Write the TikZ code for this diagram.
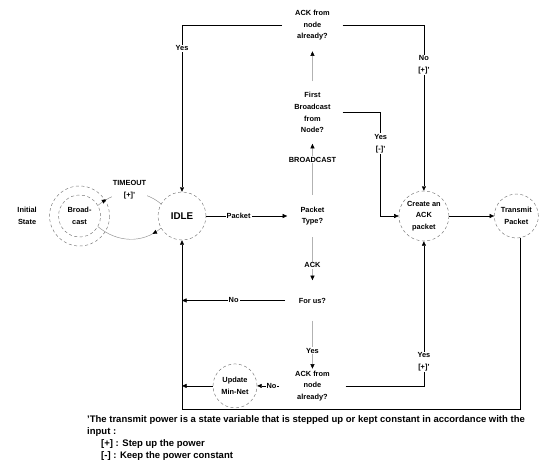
\documentclass[tikz,border=0pt]{standalone}
\usepackage{fontspec}
\setmainfont{Liberation Sans}
\usetikzlibrary{positioning,arrows.meta,calc,decorations.markings}
\tikzset{arrowat/.style={postaction={decorate},decoration={markings,mark=at position #1 with {\arrow[black]{>}}}}}

\begin{document}
\begin{tikzpicture}[x=1pt,y=-1pt,>={Triangle[length=4.5pt,width=4pt]},font=\bfseries\fontsize{7.4}{11.8}\selectfont,line width=0.45pt]
\tikzstyle{ring}=[draw=black!55,dash pattern=on 3pt off 2.5pt]
\tikzstyle{state}=[ring,circle,align=center,inner sep=0pt]
\tikzstyle{question}=[align=center,inner sep=0pt,minimum width=54pt,minimum height=52pt]
\tikzstyle{lbl}=[fill=white,inner sep=1pt,align=center]
\tikzstyle{faint}=[draw=black!30,-{Triangle[length=4.5pt,width=4pt,black]}]
\useasboundingbox (0,0) rectangle (540,461);

\node[state,minimum size=48pt,font=\bfseries\fontsize{9.8}{11}\selectfont] (idle) at (182,216) {IDLE};
\node[state,minimum size=42pt,left=57pt of idle] (bcast) {Broad-\\cast};
\draw[ring] (bcast) circle[radius=30];
\node[align=center,left=18pt of bcast] (init) {Initial\\State};

\node[question,minimum width=50pt,minimum height=42pt,right=81pt of idle] (ptype) {Packet\\Type?};
\node[question,minimum width=60pt,minimum height=62pt,above=51pt of ptype] (first) {First\\Broadcast\\from\\Node?};
\node[question,minimum width=60pt,above=30pt of first] (acktop) {ACK from\\node\\already?};
\node[question,minimum height=40pt,below=43pt of ptype] (forus) {For us?};
\node[question,minimum width=66pt,minimum height=34pt,below=48pt of forus] (ackbot) {ACK from\\node\\already?};

\node[state,minimum size=50pt,right=61pt of ptype] (create) {Create an\\ACK\\packet};
\node[state,minimum size=44pt,right=45pt of create] (transmit) {Transmit\\Packet};
\node[state,minimum size=44pt,left=22pt of ackbot] (update) {Update\\Min-Net};

\coordinate (nohit) at (idle.south |- forus.west);
\coordinate (updhit) at (idle.south |- update.west);

\draw[draw=black!45,arrowat=0.15] (bcast.30) to[out=40,in=140] node[lbl,yshift=3pt]{TIMEOUT\\{[+]}'} (idle.150);
\draw[draw=black!45,arrowat=0.15] (idle.210) to[out=-140,in=-40] (bcast.-30);

\draw[->] (idle) -- node[lbl,pos=0.4]{Packet} (ptype);
\draw[faint] (ptype) -- node[lbl,pos=0.69]{BROADCAST} (first);
\draw[faint] (first) -- (acktop);
\draw[->] (acktop.west) -| node[lbl,pos=0.57]{Yes} (idle.north);
\draw[->] (acktop.east) -| node[lbl,pos=0.62]{No\\{[+]}'} (create.north);
\draw[->] (first.east) -| node[lbl,pos=0.65]{Yes\\{[-]}'} ([xshift=-18pt]create.west) -- (create.west);

\draw[faint] (ptype) -- node[lbl,pos=0.65]{ACK} (forus);
\draw[->] (forus) -- node[lbl]{No} (nohit);
\draw[faint] (forus) -- node[lbl,pos=0.625]{Yes} (ackbot);
\draw[->] (ackbot) -- node[lbl,pos=0.35]{No} (update);
\draw[->] (update) -- (updhit);
\draw[->] (ackbot.east) -| node[lbl,pos=0.583]{Yes\\{[+]}'} (create.south);

\draw[->] (create) -- (transmit);
\draw[->] (transmit.-80) -- ++(0,171) -| (idle.south);

\node[align=left,anchor=base west,inner sep=0pt,font=\bfseries\fontsize{9.5}{12.3}\selectfont] (note) at (87,422)
  {'The transmit power is a state variable that is stepped up or kept constant in accordance with the};
\node[align=left,anchor=north west,inner sep=0pt,font=\bfseries\fontsize{9.5}{12.3}\selectfont] (notelist) at ([yshift=-3pt]note.south west)
  {input :\\
   \hspace*{14pt}[+] : Step up the power\\
   \hspace*{14pt}[-] : Keep the power constant};
\end{tikzpicture}
\end{document}
